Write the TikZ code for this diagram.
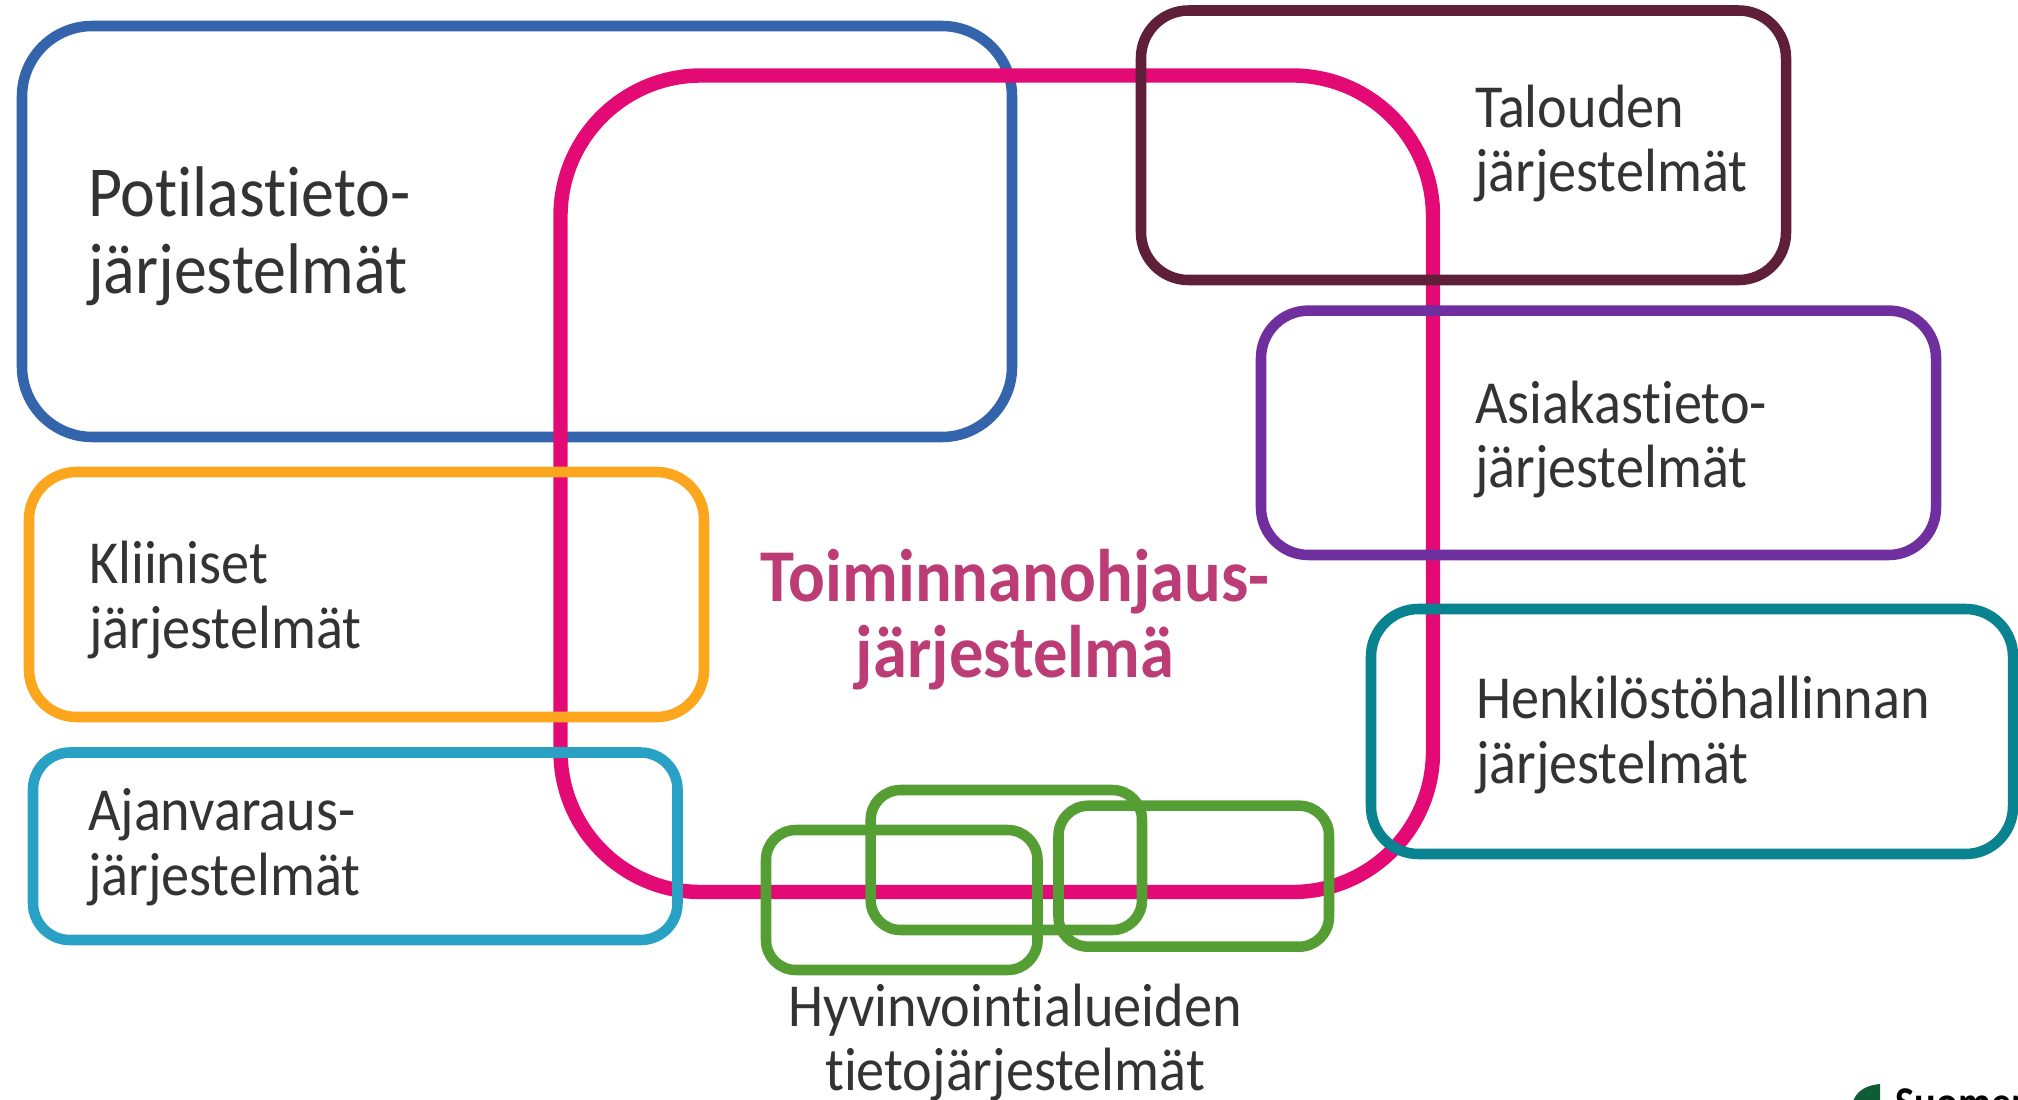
\documentclass[tikz,border=0pt]{standalone}
\usepackage{fontspec}
\setmainfont[FakeStretch=0.92,Ligatures=NoCommon]{Carlito}
\definecolor{potblue}{HTML}{3465AC}
\definecolor{ohjpink}{HTML}{E30A75}
\definecolor{ohjtext}{HTML}{BC3D75}
\definecolor{talmaroon}{HTML}{5F1F38}
\definecolor{asipurple}{HTML}{6F2F9E}
\definecolor{henteal}{HTML}{08838F}
\definecolor{klinorange}{HTML}{FBA61C}
\definecolor{ajanblue}{HTML}{29A1C4}
\definecolor{hyvgreen}{HTML}{559E33}
\definecolor{logogreen}{HTML}{0F5C36}
\definecolor{ink}{HTML}{333333}

\begin{document}
\begin{tikzpicture}[line join=round]
\tikzstyle{box} = [line width=3pt,rounded corners=13.5pt]
\tikzstyle{ann} = [text=ink,inner sep=0pt,outer sep=0pt,align=left,anchor=base west,font=\fontsize{17.4}{18.3}\selectfont]
\tikzstyle{big} = [font=\fontsize{20.4}{21.8}\selectfont]
\useasboundingbox (0,0) rectangle (20.18,-11);
\draw[box,draw=potblue,rounded corners=20pt](.22,-.26) rectangle (10.12,-4.37);
\draw[box,draw=ohjpink,line width=4.1pt,rounded corners=40pt](5.605,-.755) rectangle (14.33,-8.92);
\draw[box,draw=talmaroon](11.41,-.105) rectangle (17.86,-2.80);
\draw[box,draw=asipurple](12.61,-3.106) rectangle (19.36,-5.55);
\draw[box,draw=henteal](13.71,-6.09) rectangle (20.13,-8.54);
\draw[box,draw=klinorange](.29,-4.72) rectangle (7.04,-7.17);
\draw[box,draw=ajanblue,rounded corners=10.5pt](.33,-7.525) rectangle (6.775,-9.40);
\draw[box,draw=hyvgreen,rounded corners=8.5pt](7.66,-8.30) rectangle (10.375,-9.70);
\draw[box,draw=hyvgreen,rounded corners=8.5pt](8.707,-7.90) rectangle (11.42,-9.30);
\draw[box,draw=hyvgreen,rounded corners=8.5pt](10.585,-8.057) rectangle (13.29,-9.467);
\node[ann,big] (potilas) at (.88,-2.935) {Potilastieto-\\järjestelmät};
\node[ann] (kliiniset) at (.89,-6.48) {Kliiniset\\järjestelmät};
\node[ann] (ajanvaraus) at (.88,-8.95) {Ajanvaraus-\\järjestelmät};
\node[ann] (talous) at (14.75,-1.92) {Talouden\\järjestelmät};
\node[ann] (asiakas) at (14.75,-4.875) {Asiakastieto-\\järjestelmät};
\node[ann] (henkilosto) at (14.76,-7.83) {Henkilöstöhallinnan\\järjestelmät};
\node[ann,text=ohjtext,align=center,anchor=base,font=\fontsize{21.2}{21.6}\selectfont\bfseries] (ohjaus) at (10.15,-6.77) {Toiminnanohjaus-\\järjestelmä};
\node[ann,align=center,anchor=base] (hyvinvointi) at (10.15,-10.905) {Hyvinvointialueiden\\tietojärjestelmät};
\begin{scope}
\clip (18,-10.7) rectangle (20.18,-11);
\fill[logogreen](18.80,-10.84) .. controls (18.68,-10.85) and (18.55,-10.9) .. (18.52,-11.05) -- (18.80,-11.05) -- cycle;
\node[text=black,inner sep=0pt,anchor=base west,font=\fontsize{12.5}{13}\selectfont\bfseries] (suomen) at (18.95,-11.17) {Suomen};
\end{scope}
\end{tikzpicture}
\end{document}
